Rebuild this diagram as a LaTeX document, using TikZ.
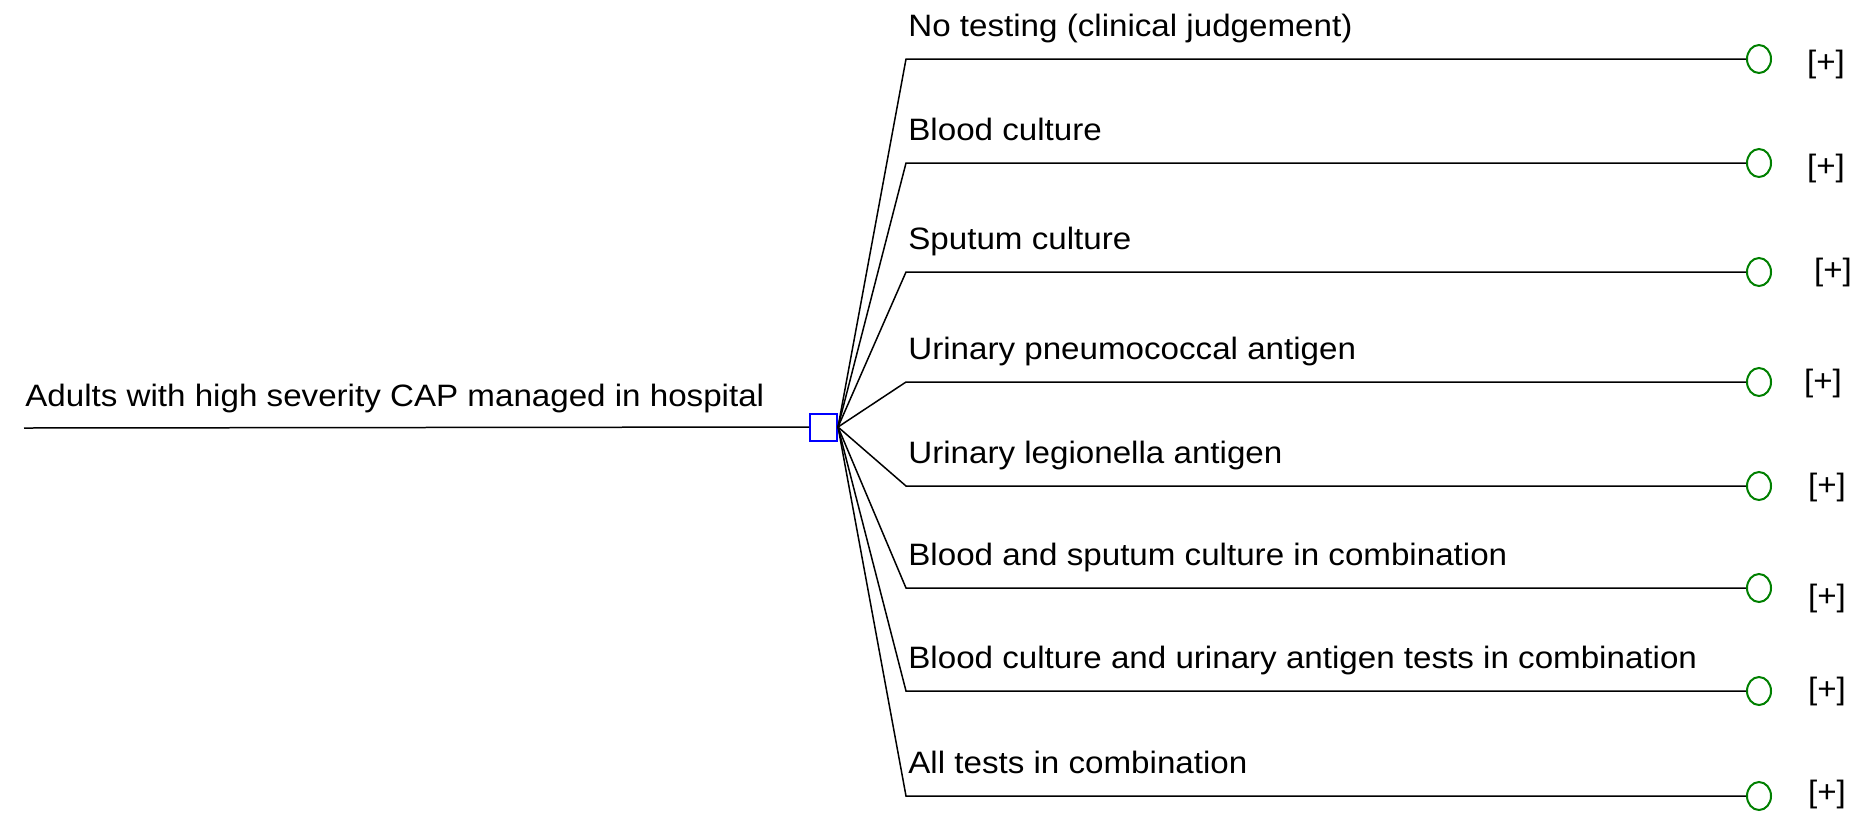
\documentclass[tikz,border=0pt]{standalone}
\usepackage{fontspec}
\setmainfont{Liberation Sans}[FakeStretch=1.072]
\usepackage{tikz}
\usetikzlibrary{
    shapes,
    positioning,
    calc
}
\tikzset{decision/.style={
    draw=blue,
    line width=0.04cm,
    minimum width=0.54cm,
    minimum height=0.54cm,
    inner sep=0pt,
}}
\tikzset{chance/.style={
    ellipse,
    draw=green!50!black,
    line width=0.04cm,
    minimum width=0.48cm,
    minimum height=0.56cm,
    inner sep=0pt,
}}
\tikzset{option/.style={
    anchor=base west,
    inner sep=0pt,
    font=\fontsize{17.6}{21}\selectfont,
}}
\tikzset{expand/.style={
    inner sep=0pt,
    font=\fontsize{17.6}{21}\selectfont,
}}
\tikzset{branch/.style={
    draw,
    line width=0.03cm,
    color=black,
}}

\begin{document}
\begin{tikzpicture}[x=0.02cm,y=-0.02cm]
    \useasboundingbox (0,0) rectangle (1865,819);

    % root
    \node[decision] (dec) at (823.5,427) {};
    \coordinate (root) at (24,428);
    \node[option] (rootlabel) at (25,406) {Adults with high severity CAP managed in hospital};
    \draw[branch] (root) -- (dec.west);

    % elbows of the fan
    \coordinate (e1) at (906,59);
    \coordinate (e2) at (906,163);
    \coordinate (e3) at (906,272);
    \coordinate (e4) at (906,382);
    \coordinate (e5) at (906,486);
    \coordinate (e6) at (906,588);
    \coordinate (e7) at (906,691);
    \coordinate (e8) at (906,796);

    % chance nodes
    \node[chance] (c1) at (1759,59) {};
    \node[chance] (c2) at (1759,163) {};
    \node[chance] (c3) at (1759,272) {};
    \node[chance] (c4) at (1759,382) {};
    \node[chance] (c5) at (1759,486) {};
    \node[chance] (c6) at (1759,588) {};
    \node[chance] (c7) at (1759,691) {};
    \node[chance] (c8) at (1759,796) {};

    % option labels
    \node[option] (l1) at ($(e1)+(2,-23)$) {No testing (clinical judgement)};
    \node[option] (l2) at ($(e2)+(2,-23)$) {Blood culture};
    \node[option] (l3) at ($(e3)+(2,-23)$) {Sputum culture};
    \node[option] (l4) at ($(e4)+(2,-23)$) {Urinary pneumococcal antigen};
    \node[option] (l5) at ($(e5)+(2,-23)$) {Urinary legionella antigen};
    \node[option] (l6) at ($(e6)+(2,-23)$) {Blood and sputum culture in combination};
    \node[option] (l7) at ($(e7)+(2,-23)$) {Blood culture and urinary antigen tests in combination};
    \node[option] (l8) at ($(e8)+(2,-23)$) {All tests in combination};

    % collapsed subtrees
    \node[expand] (p1) at (1826,64) {[+]};
    \node[expand] (p2) at (1826,168) {[+]};
    \node[expand] (p3) at (1833,272) {[+]};
    \node[expand] (p4) at (1823,383) {[+]};
    \node[expand] (p5) at (1827,487) {[+]};
    \node[expand] (p6) at (1827,598) {[+]};
    \node[expand] (p7) at (1827,691) {[+]};
    \node[expand] (p8) at (1827,794) {[+]};

    % branches
    \draw[branch] (dec.east) -- (e1) -- (c1.west);
    \draw[branch] (dec.east) -- (e2) -- (c2.west);
    \draw[branch] (dec.east) -- (e3) -- (c3.west);
    \draw[branch] (dec.east) -- (e4) -- (c4.west);
    \draw[branch] (dec.east) -- (e5) -- (c5.west);
    \draw[branch] (dec.east) -- (e6) -- (c6.west);
    \draw[branch] (dec.east) -- (e7) -- (c7.west);
    \draw[branch] (dec.east) -- (e8) -- (c8.west);

\end{tikzpicture}
\end{document}
